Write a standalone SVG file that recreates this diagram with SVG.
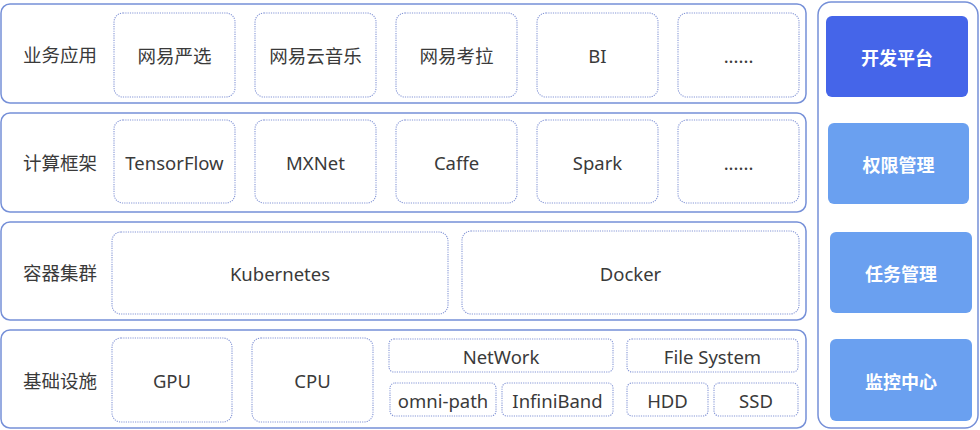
<svg xmlns="http://www.w3.org/2000/svg" width="980" height="430" viewBox="0 0 980 430">
<style>
.layer{fill:#fff;stroke:#7690d8;stroke-width:1.5}
.cell{fill:#fff;stroke:#8596d6;stroke-width:1.1;stroke-dasharray:1.2 1.1}
.t{font-family:"Noto Sans","Noto Sans CJK SC",sans-serif;font-size:18.5px;fill:#3a3a3a;text-anchor:middle;dominant-baseline:central}
.lbl{font-family:"Noto Sans CJK SC","Noto Sans",sans-serif;font-size:18.5px;fill:#3a3a3a;text-anchor:middle;dominant-baseline:central}
.btn{font-family:"Noto Sans CJK SC",sans-serif;font-size:18px;font-weight:bold;fill:#fff;text-anchor:middle;dominant-baseline:central}
</style>
<rect width="980" height="430" fill="#fff"/>
<g id="layer-app">
<rect class="layer" x="1" y="4" width="805" height="99" rx="9"/>
<text class="lbl" x="60" y="54">业务应用</text>
<g id="app-yanxuan"><rect class="cell" x="114" y="13" width="121" height="84" rx="9"/><text class="lbl" x="174.5" y="55">网易严选</text></g>
<g id="app-music"><rect class="cell" x="255" y="13" width="121" height="84" rx="9"/><text class="lbl" x="315.5" y="55">网易云音乐</text></g>
<g id="app-kaola"><rect class="cell" x="396" y="13" width="121" height="84" rx="9"/><text class="lbl" x="456.5" y="55">网易考拉</text></g>
<g id="app-bi"><rect class="cell" x="537" y="13" width="121" height="84" rx="9"/><text class="t" x="597.5" y="55">BI</text></g>
<g id="app-more"><rect class="cell" x="678" y="13" width="121" height="84" rx="9"/><text class="t" x="738.5" y="55">......</text></g>
</g>
<g id="layer-compute">
<rect class="layer" x="1" y="113" width="805" height="99" rx="9"/>
<text class="lbl" x="60" y="162">计算框架</text>
<g id="cmp-tf"><rect class="cell" x="114" y="120" width="121" height="83" rx="9"/><text class="t" x="174.5" y="162">TensorFlow</text></g>
<g id="cmp-mxnet"><rect class="cell" x="255" y="120" width="121" height="83" rx="9"/><text class="t" x="315.5" y="162">MXNet</text></g>
<g id="cmp-caffe"><rect class="cell" x="396" y="120" width="121" height="83" rx="9"/><text class="t" x="456.5" y="162">Caffe</text></g>
<g id="cmp-spark"><rect class="cell" x="537" y="120" width="121" height="83" rx="9"/><text class="t" x="597.5" y="162">Spark</text></g>
<g id="cmp-more"><rect class="cell" x="678" y="120" width="121" height="83" rx="9"/><text class="t" x="738.5" y="162">......</text></g>
</g>
<g id="layer-container">
<rect class="layer" x="1" y="222" width="805" height="98" rx="9"/>
<text class="lbl" x="60" y="272">容器集群</text>
<g id="ctr-k8s"><rect class="cell" x="112" y="232" width="336" height="82" rx="9"/><text class="t" x="280" y="273">Kubernetes</text></g>
<g id="ctr-docker"><rect class="cell" x="462" y="231" width="337" height="83" rx="9"/><text class="t" x="630.5" y="273">Docker</text></g>
</g>
<g id="layer-infra">
<rect class="layer" x="1" y="330" width="805" height="98" rx="9"/>
<text class="lbl" x="60" y="380">基础设施</text>
<g id="inf-gpu"><rect class="cell" x="112" y="338" width="120" height="84" rx="9"/><text class="t" x="172" y="380">GPU</text></g>
<g id="inf-cpu"><rect class="cell" x="252" y="338" width="121" height="84" rx="9"/><text class="t" x="312.5" y="380">CPU</text></g>
<g id="inf-network"><rect class="cell" x="389" y="339" width="224" height="33" rx="5"/><text class="t" x="501" y="356">NetWork</text></g>
<g id="inf-omni"><rect class="cell" x="390" y="383" width="106" height="33" rx="5"/><text class="t" x="443" y="400">omni-path</text></g>
<g id="inf-ib"><rect class="cell" x="502" y="383" width="111" height="33" rx="5"/><text class="t" x="557.5" y="400">InfiniBand</text></g>
<g id="inf-fs"><rect class="cell" x="627" y="339" width="171" height="33" rx="5"/><text class="t" x="712.5" y="356">File System</text></g>
<g id="inf-hdd"><rect class="cell" x="627" y="383" width="81" height="33" rx="5"/><text class="t" x="667.5" y="400">HDD</text></g>
<g id="inf-ssd"><rect class="cell" x="714" y="383" width="84" height="33" rx="5"/><text class="t" x="756" y="400">SSD</text></g>
</g>
<g id="side-panel">
<rect class="layer" x="818" y="2" width="160" height="426" rx="13"/>
<g id="btn-dev"><rect x="826" y="16" width="142" height="81" rx="6" fill="#4565e9"/><text class="btn" x="897" y="57">开发平台</text></g>
<g id="btn-auth"><rect x="828" y="123" width="141" height="81" rx="6" fill="#6aa0f0"/><text class="btn" x="898.5" y="164">权限管理</text></g>
<g id="btn-task"><rect x="830" y="232" width="142" height="81" rx="6" fill="#6aa0f0"/><text class="btn" x="901" y="273">任务管理</text></g>
<g id="btn-monitor"><rect x="830" y="339" width="142" height="82" rx="6" fill="#6aa0f0"/><text class="btn" x="901" y="381">监控中心</text></g>
</g>
<g id="connectors"/>
</svg>
